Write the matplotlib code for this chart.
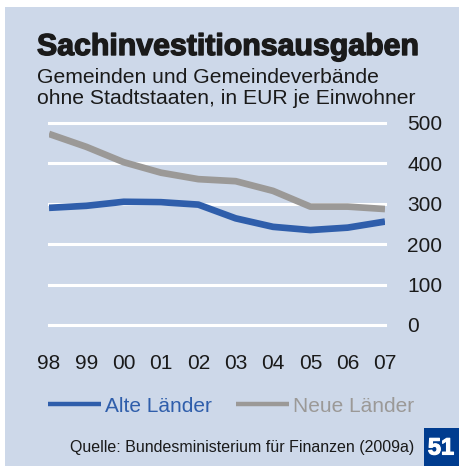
import matplotlib.pyplot as plt
import matplotlib.patheffects as pe
from matplotlib.patches import Rectangle

# Daten
years = ['98', '99', '00', '01', '02', '03', '04', '05', '06', '07']
alte = [290, 295, 305, 304, 298, 264, 243, 235, 241, 256]
neue = [473, 441, 403, 377, 361, 356, 332, 293, 293, 287]
yticks = [0, 100, 200, 300, 400, 500]

W, H = 459, 466
bg = '#cdd8e9'
blue = '#2f5eab'
grey = '#9b9997'

fig = plt.figure(figsize=(W / 100, H / 100), dpi=100)
fig.patch.set_facecolor('white')
fig.add_artist(Rectangle((5 / W, 0), 1, 1 - 7 / H, transform=fig.transFigure,
                         facecolor=bg, edgecolor='none', zorder=0))

plt.rcParams['font.family'] = 'Liberation Sans'

fig.text(37 / W, 1 - 55 / H, 'Sachinvestitionsausgaben', fontsize=21.8,
         fontweight='bold', color='#1a1a1a', va='baseline',
         path_effects=[pe.withStroke(linewidth=1.0, foreground='#1a1a1a')])
fig.text(37 / W, 1 - 83 / H, 'Gemeinden und Gemeindeverbände', fontsize=15.2,
         color='#1a1a1a', va='baseline')
fig.text(37 / W, 1 - 104 / H, 'ohne Stadtstaaten, in EUR je Einwohner', fontsize=15.2,
         color='#1a1a1a', va='baseline')

# Achsen: x 49..385 px, y 123..325 px
ax = fig.add_axes([49 / W, 1 - 325 / H, (385 - 49) / W, (325 - 123) / H])
ax.set_facecolor('none')
x = list(range(len(years)))
l1, = ax.plot(x, alte, color=blue, lw=4.8, solid_capstyle='butt', label='Alte Länder', zorder=3)
l2, = ax.plot(x, neue, color=grey, lw=4.8, solid_capstyle='butt', label='Neue Länder', zorder=3)
for v in yticks:
    ax.axhline(v, color='white', lw=2.2, zorder=1, clip_on=False)
ax.set_xlim(0, 9)
ax.set_ylim(0, 500)
for s in ax.spines.values():
    s.set_visible(False)
ax.yaxis.tick_right()
ax.set_yticks(yticks)
ax.set_yticklabels([str(v) for v in yticks])
ax.set_xticks(x)
ax.set_xticklabels(years)
ax.tick_params(axis='y', length=0, pad=16, labelsize=15, labelcolor='#1a1a1a')
ax.tick_params(axis='x', length=0, pad=21, labelsize=15, labelcolor='#1a1a1a')

leg = fig.legend(handles=[l1, l2], loc='center left',
                 bbox_to_anchor=(29 / W, 1 - 406 / H), ncol=2, frameon=False,
                 fontsize=15, handlelength=2.55, handletextpad=0.2,
                 columnspacing=1.15, labelcolor='linecolor')
for h in leg.legend_handles:
    h.set_linewidth(3.2)

fig.text(414 / W, 1 - 452 / H, 'Quelle: Bundesministerium für Finanzen (2009a)',
         fontsize=11.5, color='#1a1a1a', ha='right', va='baseline')
fig.add_artist(Rectangle((424 / W, 0), 1, 38 / H, transform=fig.transFigure,
                         facecolor='#003c8f', edgecolor='none'))
fig.text(441 / W, 1 - 448 / H, '51', fontsize=17, fontweight='bold',
         color='white', ha='center', va='center',
         path_effects=[pe.withStroke(linewidth=0.8, foreground='white')])

fig.savefig('out.png', dpi=100, facecolor=fig.get_facecolor())
